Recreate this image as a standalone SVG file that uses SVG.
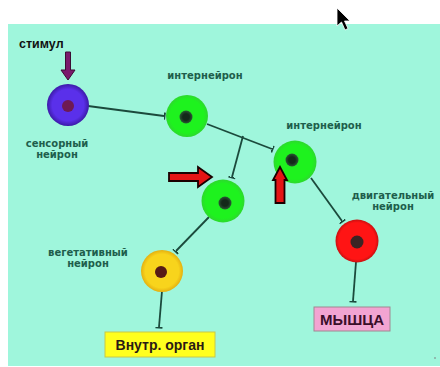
<svg xmlns="http://www.w3.org/2000/svg" width="440" height="367" viewBox="0 0 440 367">
<defs>
<style>
.lbl{font-family:"DejaVu Sans",sans-serif;font-size:10px;font-weight:bold;fill:#1e5e4c;text-anchor:middle}
.stim{font-family:"Liberation Sans",Arial,sans-serif;font-size:12.5px;font-weight:bold;fill:#111}
.box{font-family:"Liberation Sans",Arial,sans-serif;font-weight:bold;text-anchor:middle}
.conn{stroke:#1b4a3c;stroke-width:1.8;fill:none;marker-end:url(#tee)}
.arr{fill:#e41414;stroke:#1a0000;stroke-width:1.8;stroke-linejoin:miter}
.nuc{stroke:none}
</style>
<marker id="tee" markerWidth="10" markerHeight="10" refX="0" refY="5" orient="auto" markerUnits="userSpaceOnUse">
<path d="M0,1.5 L0,8.5" stroke="#1b4a3c" stroke-width="3"/>
</marker>
<radialGradient id="gGreen" cx="0.5" cy="0.5" r="0.5">
<stop offset="0.8" stop-color="#1ef21e"/><stop offset="1" stop-color="#2ed82e"/>
</radialGradient>
<radialGradient id="gPurple" cx="0.5" cy="0.5" r="0.5">
<stop offset="0.75" stop-color="#5a30ea"/><stop offset="1" stop-color="#3c1aa8"/>
</radialGradient>
<radialGradient id="gYellow" cx="0.5" cy="0.5" r="0.5">
<stop offset="0.8" stop-color="#f8d41c"/><stop offset="1" stop-color="#e4b010"/>
</radialGradient>
<radialGradient id="gRed" cx="0.5" cy="0.5" r="0.5">
<stop offset="0.85" stop-color="#ff1414"/><stop offset="1" stop-color="#c81010"/>
</radialGradient>
<radialGradient id="gNucG" cx="0.5" cy="0.5" r="0.5">
<stop offset="0.5" stop-color="#142a1a"/><stop offset="1" stop-color="#2a5a34"/>
</radialGradient>
</defs>

<rect x="0" y="0" width="440" height="367" fill="#ffffff"/>
<rect x="8" y="24" width="432" height="342" fill="#9ff6dc"/>

<g id="connectors">
<line class="conn" x1="88" y1="106" x2="164" y2="116"/>
<line class="conn" x1="207" y1="124" x2="272" y2="149"/>
<line class="conn" x1="243" y1="136" x2="232" y2="177"/>
<line class="conn" x1="209" y1="217" x2="176" y2="251"/>
<line class="conn" x1="162" y1="291" x2="159" y2="327"/>
<line class="conn" x1="311" y1="178" x2="342" y2="221"/>
<line class="conn" x1="356" y1="262" x2="353" y2="301"/>
</g>

<g id="stimulus">
<text class="stim" x="19" y="48">стимул</text>
<path d="M65.5,52 H70.5 V70 H75 L68,80 L61,70 H65.5 Z" fill="#7a1a6c" stroke="#3c0c34" stroke-width="1"/>
</g>

<g id="sensory">
<circle cx="68" cy="105" r="21" fill="url(#gPurple)"/>
<circle class="nuc" cx="68" cy="106" r="6" fill="#6e1a54"/>
<text class="lbl" x="57" y="147">сенсорный</text>
<text class="lbl" x="57" y="158">нейрон</text>
</g>

<g id="inter1">
<circle cx="187" cy="116" r="21" fill="url(#gGreen)"/>
<circle class="nuc" cx="186" cy="117" r="6.5" fill="url(#gNucG)"/>
<text class="lbl" x="205" y="79">интернейрон</text>
</g>

<g id="inter2">
<circle cx="295" cy="162" r="21.5" fill="url(#gGreen)"/>
<circle class="nuc" cx="292" cy="160" r="6.5" fill="url(#gNucG)"/>
<text class="lbl" x="324" y="129">интернейрон</text>
</g>

<g id="inter3">
<circle cx="223" cy="201" r="21.5" fill="url(#gGreen)"/>
<circle class="nuc" cx="225" cy="203" r="6.5" fill="url(#gNucG)"/>
</g>

<g id="arrows">
<path class="arr" d="M169,173 H198 V167 L212,177 L198,187 V181 H169 Z"/>
<path class="arr" d="M280,167 L287,180 H284.5 V203 H275.5 V180 H273 Z"/>
</g>

<g id="vegetative">
<circle cx="162" cy="271" r="21" fill="url(#gYellow)"/>
<circle class="nuc" cx="161" cy="272" r="6" fill="#561a16"/>
<text class="lbl" x="88" y="256">вегетативный</text>
<text class="lbl" x="88" y="267">нейрон</text>
</g>

<g id="motor">
<circle cx="357" cy="241" r="21.5" fill="url(#gRed)"/>
<circle class="nuc" cx="357" cy="242" r="6.5" fill="#3c2424"/>
<text class="lbl" x="393" y="199">двигательный</text>
<text class="lbl" x="393" y="210">нейрон</text>
</g>

<g id="organ">
<rect x="105" y="332" width="110" height="25" fill="#ffff1e" stroke="#c8c848" stroke-width="1"/>
<text class="box" x="160" y="350" font-size="14" fill="#2a1a14">Внутр. орган</text>
</g>

<g id="muscle">
<rect x="314" y="307" width="76" height="24" fill="#f2a4d2" stroke="#a08890" stroke-width="1"/>
<text class="box" x="352" y="325" font-size="15" fill="#3a0e2a">МЫШЦА</text>
</g>

<path d="M337,8 L337,26 L341.5,22 L345,30 L348,28.5 L344.5,21 L350,21 Z" fill="#000" stroke="#fff" stroke-width="0.8"/>
<circle cx="435" cy="358" r="1" fill="#8aa8a0"/>
</svg>
